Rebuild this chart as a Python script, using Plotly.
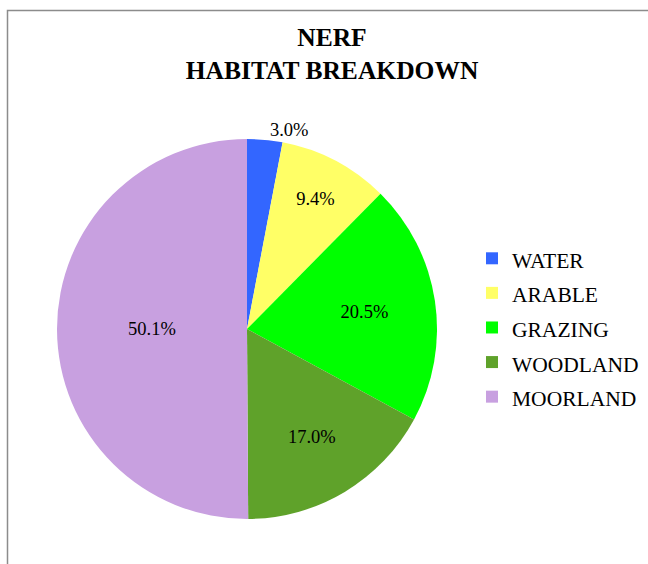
import plotly.graph_objects as go

# Habitat share of the NERF area (percent)
habitats = ["WATER", "ARABLE", "GRAZING", "WOODLAND", "MOORLAND"]
shares = [3.0, 9.4, 20.5, 17.0, 50.1]
colors = ["#3366FF", "#FFFF66", "#00FF00", "#5FA22A", "#C8A0E0"]

W, H = 648, 564
SERIF = "Liberation Serif"

# pie box in pixels (left, top, size)
px_left, px_top, px_size = 57, 139, 380

# legend rows are spaced by the legend font size; the visible text is smaller
legend_labels = [f'<span style="font-size:21.5px">{h}</span>' for h in habitats]

fig = go.Figure(
    go.Pie(
        labels=legend_labels,
        values=shares,
        sort=False,
        direction="clockwise",
        rotation=0,
        marker=dict(colors=colors, line=dict(width=0)),
        texttemplate="%{value:.1f}%",
        textposition=["outside", "inside", "inside", "inside", "inside"],
        insidetextorientation="horizontal",
        textfont=dict(family=SERIF, size=18.5, color="black"),
        hoverinfo="value+percent",
        showlegend=True,
        domain=dict(
            x=[px_left / W, (px_left + px_size) / W],
            y=[1 - (px_top + px_size) / H, 1 - px_top / H],
        ),
    )
)

fig.update_layout(
    width=W,
    height=H,
    margin=dict(l=0, r=0, t=0, b=0),
    paper_bgcolor="white",
    title=dict(
        text="<b>NERF<br>HABITAT BREAKDOWN</b>",
        font=dict(family=SERIF, size=25.5, color="black"),
        x=332 / W,
        xanchor="center",
        y=1 - 46 / H,
        yanchor="top",
    ),
    legend=dict(
        font=dict(family=SERIF, size=24.3, color="black"),
        x=472 / W,
        xanchor="left",
        y=1 - 236 / H,
        yanchor="top",
        itemwidth=30,
        traceorder="normal",
    ),
    shapes=[
        dict(
            type="rect",
            xref="paper",
            yref="paper",
            x0=7.5 / W,
            x1=1.2,
            y0=-0.2,
            y1=1 - 10.5 / H,
            line=dict(color="#8C8C8C", width=1.5),
        )
    ],
)

fig.write_html("out.html")
